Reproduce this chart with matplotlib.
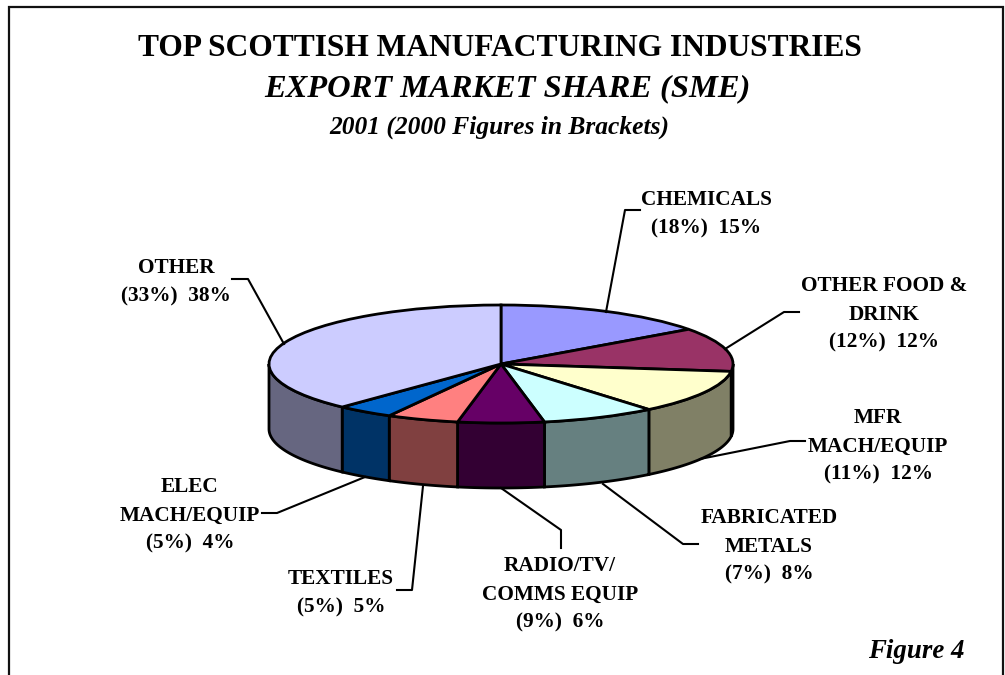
import numpy as np
import matplotlib
matplotlib.use("Agg")
import matplotlib.pyplot as plt

plt.rcParams["font.family"] = ["Liberation Serif", "DejaVu Serif"]

# export share by industry, clockwise from twelve o'clock
industries = ["CHEMICALS", "OTHER FOOD &\nDRINK", "MFR\nMACH/EQUIP", "FABRICATED\nMETALS",
              "RADIO/TV/\nCOMMS EQUIP", "TEXTILES", "ELEC\nMACH/EQUIP", "OTHER"]
share_2000 = [18, 12, 11, 7, 9, 5, 5, 33]
share_2001 = [15, 12, 12, 8, 6, 5, 4, 38]

top_colors = ["#9999FF", "#993366", "#FFFFCC", "#CCFFFF", "#660066", "#FF8080", "#0066CC", "#CCCCFF"]
side_colors = ["#666680", "#4D1A33", "#808066", "#668080", "#330033", "#804040", "#003366", "#666680"]

# label centre and leader line for each industry, in pixels
label_pos = [(706, 214), (884, 314.5), (878, 446.5), (769, 546.5), (560, 594.5), (341, 593.5), (190, 515.5), (176, 282.5)]
leaders = [
    [(606, 312), (625, 210), (640, 210)],
    [(725, 349), (784, 312), (799, 312)],
    [(700, 459), (790, 441), (805, 441)],
    [(603, 484), (683, 544), (698, 544)],
    [(501, 488), (561, 530), (561, 548)],
    [(423, 486), (412, 590), (397, 590)],
    [(365, 477), (277, 513), (262, 513)],
    [(284, 344), (248, 279), (232, 279)],
]

W, H = 1005, 675
CX, CY, RX, RY = 501, 364, 232, 59
DEPTH = 65 / RY

fig = plt.figure(figsize=(W / 100, H / 100), dpi=100, facecolor="white")

# pie axes: unit circle squashed into the ellipse of the disc top
ax = fig.add_axes([0, 0, 1, 1])
ax.pie(share_2001, colors=top_colors, startangle=90, counterclock=False,
       wedgeprops=dict(edgecolor="black", linewidth=2.0))
ax.set_aspect("auto")
ax.set_xlim((0 - CX) / RX, (W - CX) / RX)
ax.set_ylim((CY - H) / RY, CY / RY)
ax.axis("off")

# side wall of the disc, only the part facing the viewer (90-270 deg clockwise)
edges = np.cumsum([0] + share_2001) / sum(share_2001) * 360
for start, stop, color in zip(edges[:-1], edges[1:], side_colors):
    a0, a1 = max(start, 90), min(stop, 270)
    if a1 <= a0:
        continue
    t = np.radians(np.linspace(a0, a1, 60))
    x, y = np.sin(t), np.cos(t)
    ax.fill(np.r_[x, x[::-1]], np.r_[y, y[::-1] - DEPTH], facecolor=color,
            edgecolor="black", linewidth=2.0, zorder=0.5)

# overlay in pixel coordinates for frame, text and leaders
over = fig.add_axes([0, 0, 1, 1])
over.set_xlim(0, W)
over.set_ylim(H, 0)
over.axis("off")
over.patch.set_alpha(0)

over.plot([8.5, 8.5, 1003, 1003], [H, 6.5, 6.5, H], color="#111111", lw=1.6, solid_joinstyle="miter")

over.text(499.5, 49, "TOP SCOTTISH MANUFACTURING INDUSTRIES", ha="center", va="center",
          fontsize=22.7, fontweight="bold")
over.text(507, 89, "EXPORT MARKET SHARE (SME)", ha="center", va="center",
          fontsize=23.4, fontweight="bold", fontstyle="italic")
over.text(499, 127, "2001 (2000 Figures in Brackets)", ha="center", va="center",
          fontsize=18.4, fontweight="bold", fontstyle="italic")
over.text(965, 651, "Figure 4", ha="right", va="center",
          fontsize=19.4, fontweight="bold", fontstyle="italic")

for name, prev, cur, pos, pts in zip(industries, share_2000, share_2001, label_pos, leaders):
    over.text(pos[0], pos[1], f"{name}\n({prev}%)  {cur}%", ha="center", va="center",
              fontsize=15.3, fontweight="bold", linespacing=1.56)
    px, py = zip(*pts)
    over.plot(px, py, color="black", lw=1.5)

fig.savefig("out.png", dpi=100)
